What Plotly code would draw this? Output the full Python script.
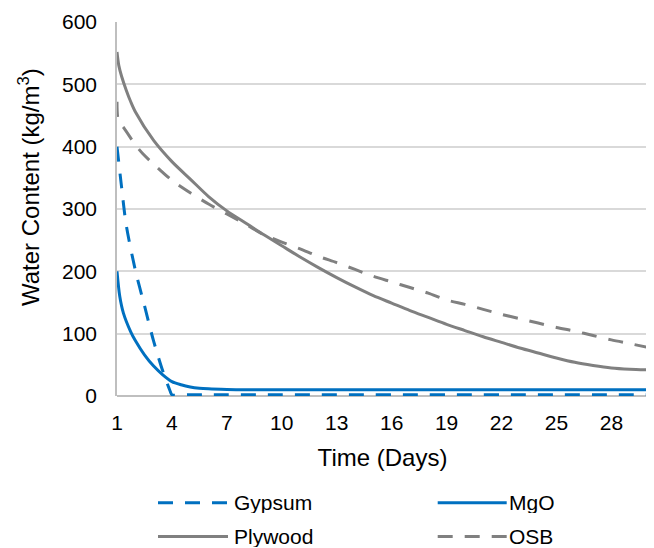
import plotly.graph_objects as go

# ---- data ----
gyp_days = [1, 1.25, 1.5, 2, 2.5, 3, 3.5, 3.9, 4, 5, 6, 7, 8, 9, 10, 11, 12, 13, 14, 15,
            16, 17, 18, 19, 20, 21, 22, 23, 24, 25, 26, 27, 28, 29, 30]
gyp_vals = [400, 335, 275, 202, 145, 88, 40, 8, 2, 2, 2, 2, 2, 2, 2, 2, 2, 2, 2, 2,
            2, 2, 2, 2, 2, 2, 2, 2, 2, 2, 2, 2, 2, 2, 2]

mgo_days = [1, 1.15, 1.35, 1.75, 2, 2.5, 3, 3.5, 4, 4.5, 5, 5.5, 6, 7, 8, 9, 10, 11, 12, 13, 14, 15,
            16, 17, 18, 19, 20, 21, 22, 23, 24, 25, 26, 27, 28, 29, 30]
mgo_vals = [200, 160, 133, 103, 89, 66, 48, 34, 23, 18, 14.5, 12.5, 11.5, 10.5, 10, 10, 10, 10, 10, 10,
            10, 10, 10, 10, 10, 10, 10, 10, 10, 10, 10, 10, 10, 10, 10, 10, 10]

ply_days = [1, 1.1, 1.25, 1.5, 1.75, 2, 3, 4, 5, 6, 7, 8, 9, 10, 11, 12, 13, 14, 15, 16, 17, 18, 19, 20,
            21, 22, 23, 24, 25, 26, 27, 28, 29, 30]
ply_vals = [552, 530, 513, 491, 472, 456, 410, 376, 348, 320, 297, 278, 259, 241, 223, 206, 190, 175, 161,
            149, 137, 126, 115, 105, 95, 86, 77, 69, 61, 54, 49, 45, 43, 42]

osb_days = [1, 1.05, 1.2, 1.4, 2, 2.4, 3, 4, 5, 6, 7, 8, 9, 10, 11, 12, 13, 14, 15, 16, 17, 18, 19,
            20, 21, 22, 23, 24, 25, 26, 27, 28, 29, 30]
osb_vals = [472, 445, 436, 429, 403, 389, 372, 346, 326, 308, 292, 276, 259, 247, 236, 224, 214, 203,
            192, 183, 174, 165, 154, 147, 139, 131, 124, 117, 110, 104, 97, 90, 84, 78]

series_names = ["Gypsum", "MgO", "Plywood", "OSB"]
x_ticks = [1, 4, 7, 10, 13, 16, 19, 22, 25, 28]
y_ticks = [0, 100, 200, 300, 400, 500, 600]
x_title = "Time (Days)"
y_title = "Water Content (kg/m<sup>3</sup>)"

BLUE = "#0070C0"
GRAY = "#808080"
DASH = "15px,12px"
FONT = "Liberation Sans, Arial, Helvetica, sans-serif"
FS = 21
FS_TITLE = 24

styles = {
    "Gypsum": (BLUE, DASH),
    "MgO": (BLUE, "solid"),
    "Plywood": (GRAY, "solid"),
    "OSB": (GRAY, DASH),
}
data = {
    "Gypsum": (gyp_days, gyp_vals),
    "MgO": (mgo_days, mgo_vals),
    "Plywood": (ply_days, ply_vals),
    "OSB": (osb_days, osb_vals),
}

fig = go.Figure()
for name in ["Plywood", "OSB", "MgO", "Gypsum"]:
    xs, ys = data[name]
    col, dash = styles[name]
    fig.add_trace(go.Scatter(
        x=xs, y=ys, mode="lines", name=name, showlegend=False,
        line=dict(color=col, width=3, dash=dash, shape="spline", smoothing=0.8),
    ))

# page has an 8px body margin: the figure is drawn 8px in from the top-left
OFF = 8
W, H = 654 - OFF, 548 - OFF
L, R, T = 117 - OFF, 6, 22 - OFF
B = H - (396 - OFF)
pw, ph = W - L - R, H - T - B

def px_x(p):
    return (p - OFF - L) / pw

def px_y(p):
    return (H - B - (p - OFF)) / ph

legend_pos = {
    "Gypsum": (158, 228, 232, 502.7),
    "MgO": (437.7, 506.7, 507, 502.7),
    "Plywood": (158, 228, 232, 536.5),
    "OSB": (437.7, 506.7, 507, 536.5),
}
for name in series_names:
    x0, x1, tx, yy = legend_pos[name]
    col, dash = styles[name]
    fig.add_shape(type="line", xref="paper", yref="paper",
                  x0=px_x(x0), x1=px_x(x1), y0=px_y(yy), y1=px_y(yy),
                  line=dict(color=col, width=3, dash=dash))
    fig.add_annotation(xref="paper", yref="paper", x=px_x(tx), y=px_y(yy),
                       text=name, showarrow=False, xanchor="left", yanchor="middle",
                       height=21, font=dict(family=FONT, size=FS, color="#000"))

# y-axis title (placed as in the reference, above the plot's middle)
fig.add_annotation(xref="paper", yref="paper", x=px_x(29), y=px_y(187),
                   text=y_title, textangle=-90, showarrow=False,
                   xanchor="center", yanchor="middle",
                   font=dict(family=FONT, size=FS_TITLE, color="#000"))

fig.update_layout(
    width=W, height=H,
    margin=dict(l=L, r=R, t=T, b=B, autoexpand=False),
    paper_bgcolor="white", plot_bgcolor="white",
    font=dict(family=FONT, size=FS, color="#000"),
    showlegend=False,
)
fig.update_xaxes(
    range=[1, 30], tickmode="array", tickvals=x_ticks, ticktext=[str(v) for v in x_ticks],
    showgrid=False, zeroline=False, showline=False, ticks="", automargin=False,
    ticklabelstandoff=12,
    title=dict(text=x_title, font=dict(size=FS_TITLE), standoff=16),
)
fig.update_yaxes(
    range=[0, 600], tickmode="array", tickvals=y_ticks, ticktext=[str(v) for v in y_ticks],
    showgrid=True, gridcolor="#D9D9D9", gridwidth=1.5,
    zeroline=True, zerolinecolor="#BFBFBF", zerolinewidth=1.5,
    showline=True, linecolor="#BFBFBF", linewidth=1.5, ticks="", automargin=False,
    ticklabelstandoff=14,
)

fig.write_html("out.html")
